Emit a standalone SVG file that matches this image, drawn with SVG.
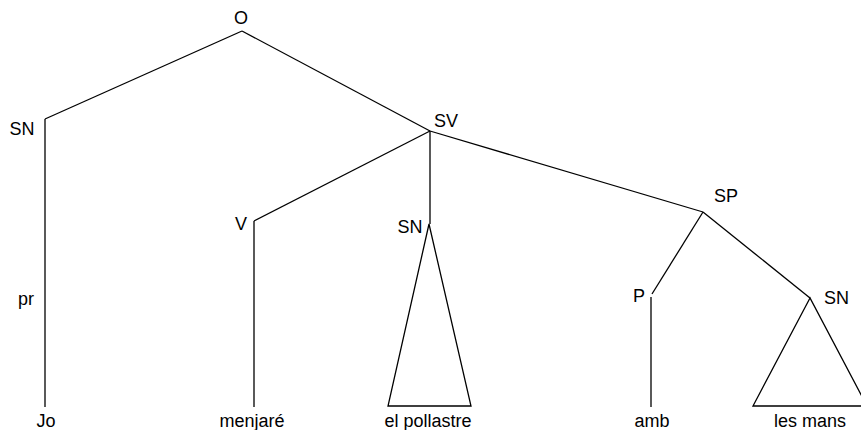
<svg xmlns="http://www.w3.org/2000/svg" width="861" height="430" viewBox="0 0 861 430">
<style>
text{font-family:"Liberation Sans",Arial,sans-serif;font-size:18px;fill:#000}
.m{text-anchor:middle}
line,polygon,polyline{stroke:#000;stroke-width:1.3;fill:none}
</style>
<rect width="861" height="430" fill="#fff"/>
<g id="connectors">
<line x1="242" y1="31" x2="45" y2="119"/>
<line x1="242" y1="31" x2="430" y2="131"/>
<line x1="45" y1="119" x2="45" y2="407"/>
<line x1="430" y1="131" x2="254" y2="221"/>
<line x1="254" y1="221" x2="254" y2="407"/>
<line x1="430" y1="131" x2="430" y2="224"/>
<line x1="430" y1="131" x2="703" y2="212"/>
<line x1="703" y1="212" x2="652" y2="294"/>
<line x1="651" y1="297" x2="651" y2="407"/>
<line x1="703" y1="212" x2="810" y2="298"/>
<polygon points="429,224 388,406 471,406"/>
<polygon points="810,298 753,406 867,406"/>
</g>
<g id="n-O"><text class="m" x="241" y="24">O</text></g>
<g id="n-SN1"><text class="m" x="22" y="135">SN</text></g>
<g id="n-SV"><text x="434" y="127">SV</text></g>
<g id="n-V"><text class="m" x="241" y="230">V</text></g>
<g id="n-SN2"><text class="m" x="410" y="233">SN</text></g>
<g id="n-SP"><text x="714" y="202">SP</text></g>
<g id="n-P"><text class="m" x="639" y="302">P</text></g>
<g id="n-SN3"><text x="824" y="304">SN</text></g>
<g id="n-pr"><text class="m" x="26" y="305">pr</text></g>
<g id="n-Jo"><text class="m" x="46" y="427">Jo</text></g>
<g id="n-menjare"><text class="m" x="252" y="427">menjaré</text></g>
<g id="n-pollastre"><text class="m" x="428" y="427">el pollastre</text></g>
<g id="n-amb"><text class="m" x="652" y="427">amb</text></g>
<g id="n-mans"><text class="m" x="810" y="427">les mans</text></g>
</svg>
